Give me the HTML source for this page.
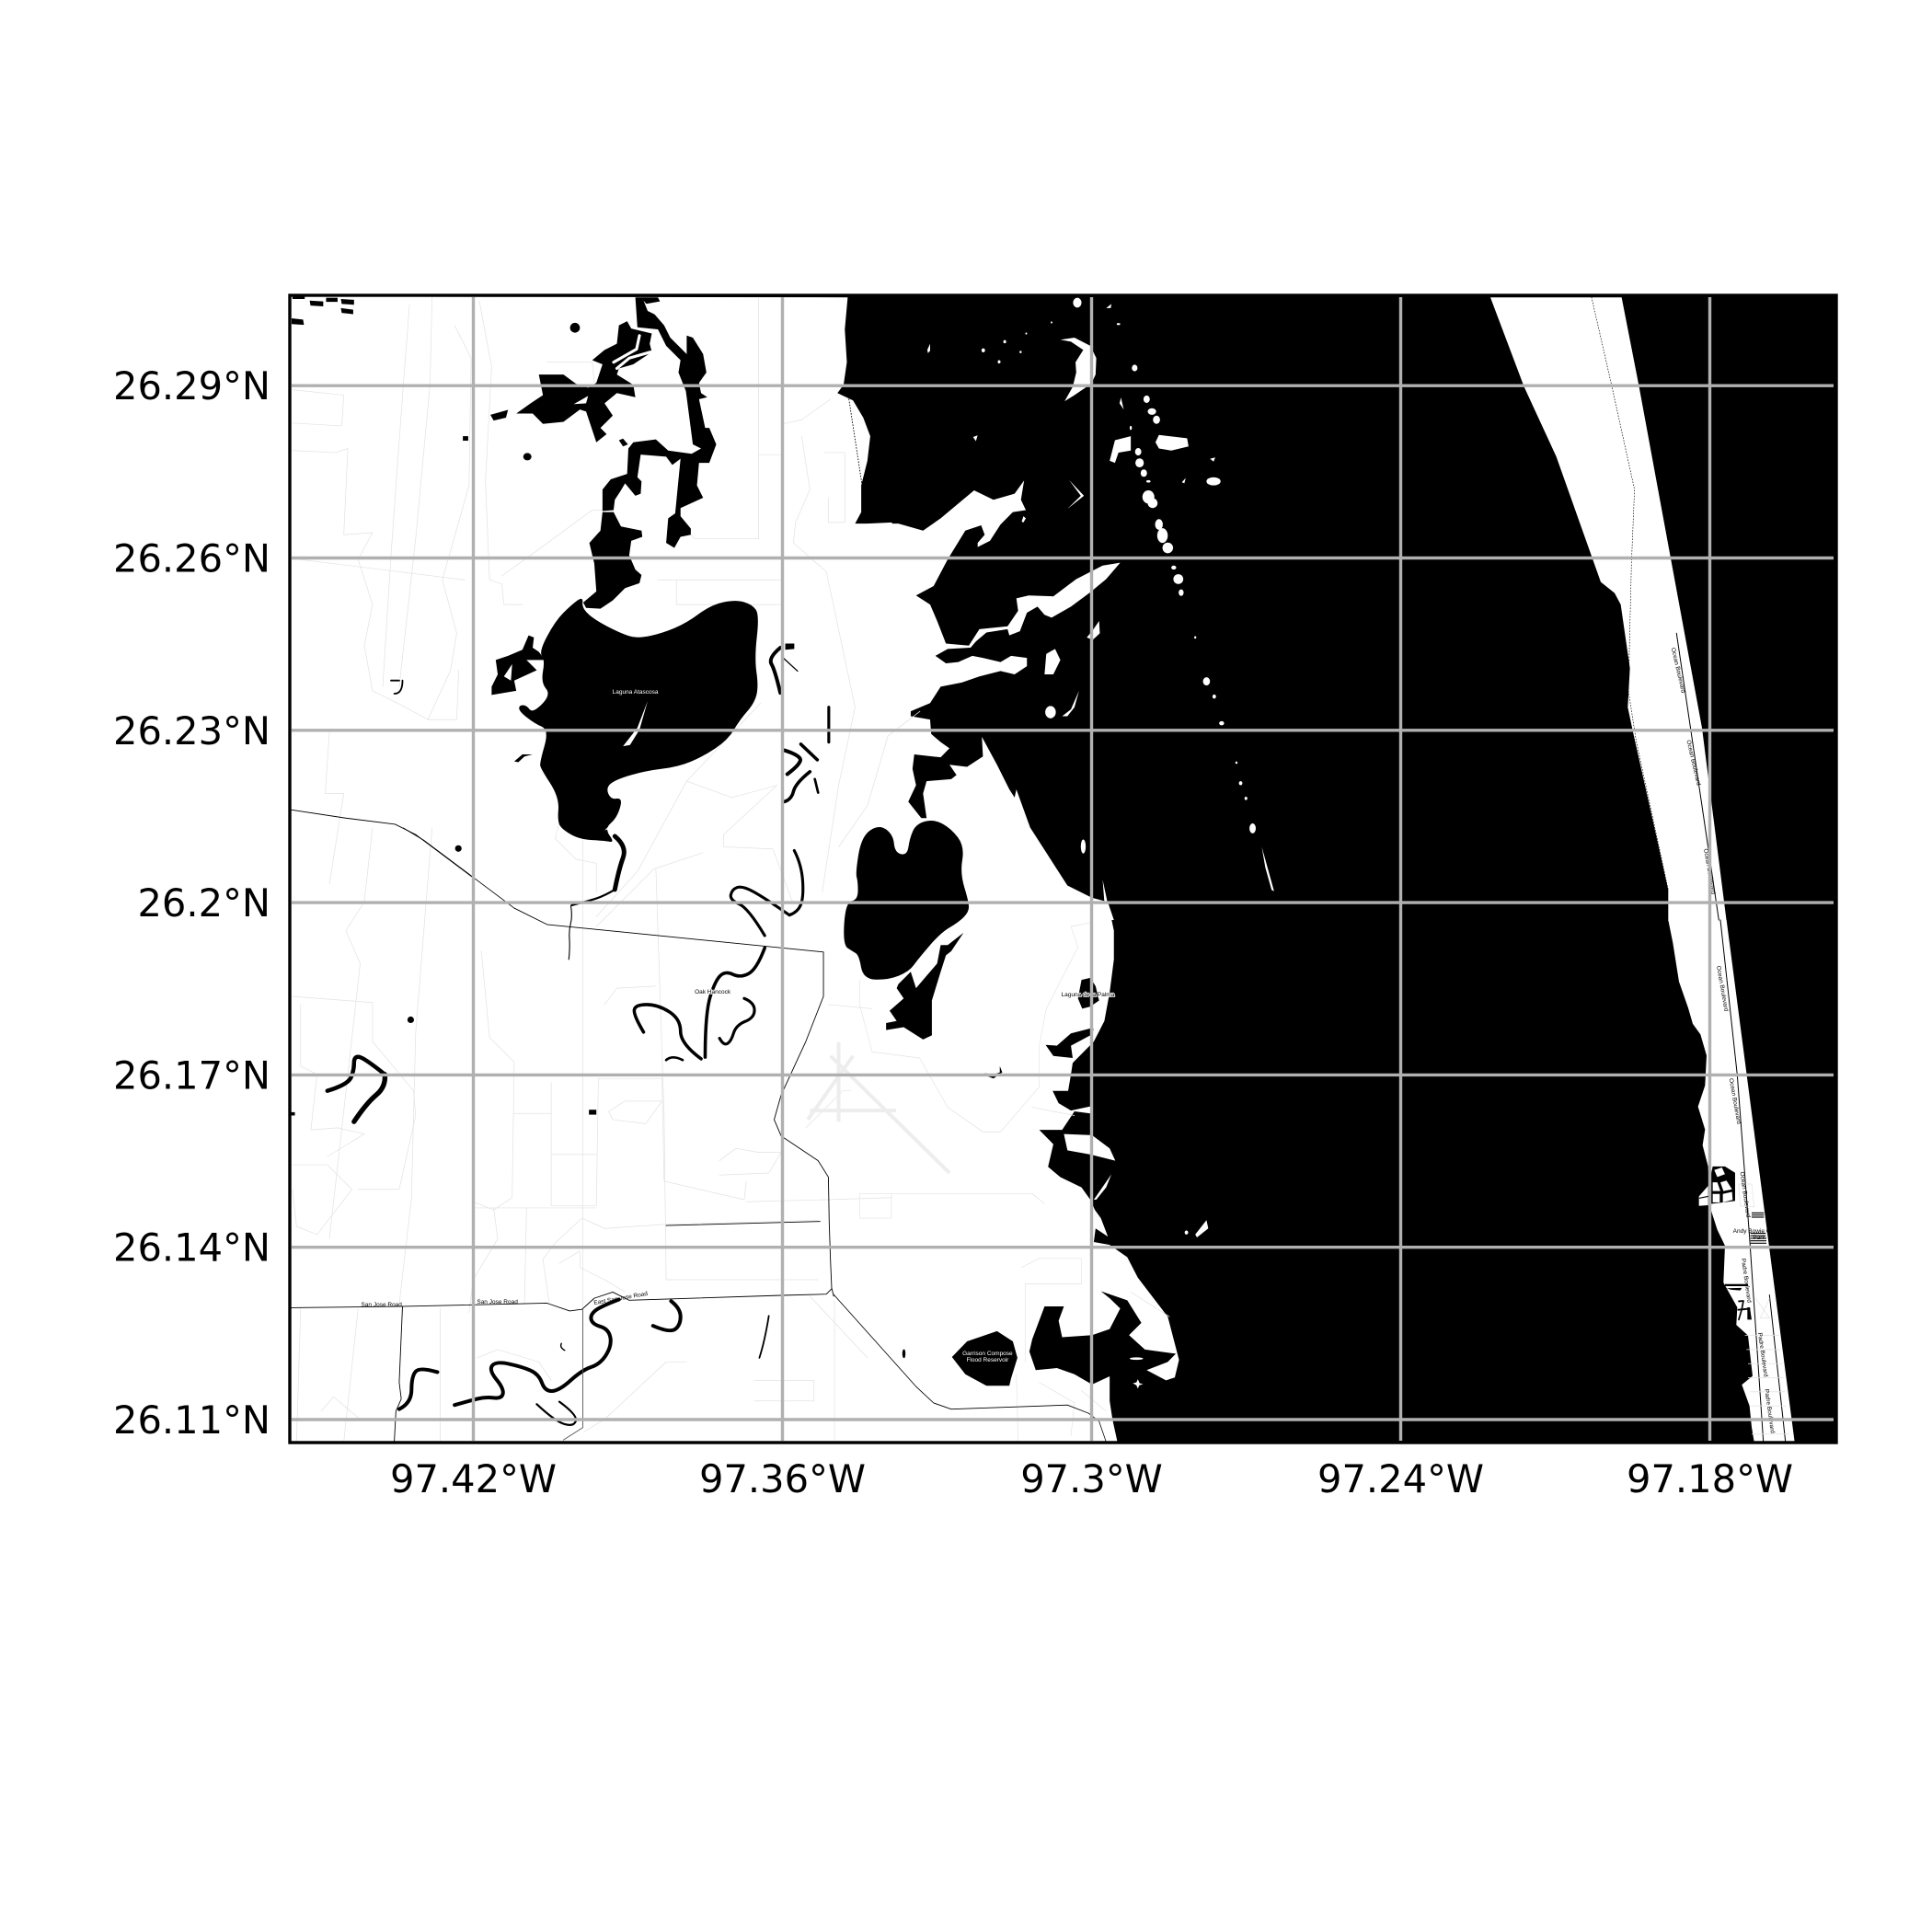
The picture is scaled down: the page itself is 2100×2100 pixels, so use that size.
<!DOCTYPE html>
<html>
<head>
<meta charset="utf-8">
<title>Map chart</title>
<style>
html,body{margin:0;padding:0;background:#fff;}
svg{display:block;}
.tick-label{font-family:"DejaVu Sans","Liberation Sans",sans-serif;font-size:41.6px;fill:#000;}
.tiny{font-family:"Liberation Sans",sans-serif;font-size:6.5px;}
polyline,path{stroke-linejoin:round;stroke-linecap:round;}
polyline{fill:none;}
.halo{stroke:#fff;stroke-width:1.6px;paint-order:stroke;}
</style>
</head>
<body>
<svg id="chart" xmlns="http://www.w3.org/2000/svg" width="2100" height="2100" viewBox="0 0 2100 2100">
<rect width="2100" height="2100" fill="#fff"/>
<rect x="315" y="321" width="1681" height="1247" fill="#000"/>

<!-- land -->
<g fill="#fff">
<g transform="translate(300,300) scale(0.4464)">
<polygon points="30,50 1392,52 1385,130 1390,210 1382,265 1367,285 1405,303 1430,345 1447,390 1440,450 1425,510 1425,575 1402,618 1425,640 1440,603 1500,600 1500,2840 30,2840"/>
</g>
<g transform="translate(900,300) scale(0.3827,0.4464)">
<polygon points="120,603 200,603 270,620 320,590 415,522 470,545 530,530 557,498 548,545 562,570 525,575 490,605 460,645 425,660 425,650 445,630 435,607 390,620 340,690 300,755 250,778 290,800 310,840 335,895 400,900 430,860 510,853 540,815 535,785 570,778 640,780 705,738 780,705 830,698 790,738 745,770 690,805 635,832 615,825 595,805 565,820 545,865 515,875 510,860 450,868 420,890 405,905 340,908 305,925 335,943 370,940 410,925 440,930 490,940 520,925 565,930 565,950 530,970 490,962 430,975 380,990 320,1000 290,1040 235,1060 235,1072 290,1080 293,1115 320,1135 345,1150 320,1172 245,1165 240,1200 250,1240 228,1280 265,1320 280,1320 270,1260 280,1230 350,1225 365,1215 345,1190 395,1195 440,1170 437,1122 480,1190 515,1250 530,1270 535,1250 575,1345 680,1495 748,1520 797,1530 812,1568 0,1568 0,603"/>
</g>
<g transform="translate(900,900) scale(0.3827,0.4464)">
<polygon points="575,0 680,140 750,170 795,180 812,250 812,320 800,400 785,470 755,520 695,572 690,600 682,640 638,640 655,670 690,688 745,678 745,695 700,690 665,735 600,735 640,770 625,825 660,850 720,875 745,905 758,930 775,950 795,995 760,975 755,1008 800,1015 850,1045 880,1095 965,1190 997,1295 985,1338 960,1345 905,1320 965,1300 988,1280 900,1270 855,1235 890,1205 850,1150 775,1128 800,1145 830,1170 800,1220 750,1235 665,1240 655,1200 670,1165 615,1165 580,1245 572,1275 590,1320 650,1315 700,1330 750,1355 800,1335 800,1395 808,1440 822,1495 0,1495 0,0"/>
<polygon points="670,745 750,748 800,780 816,810 745,795 680,785"/>
<polygon points="755,905 805,843 790,875 762,905"/>
</g>
<g transform="translate(1500,300) scale(0.3333,0.4464)">
<polygon points="360,52 470,270 575,440 720,745 765,772 785,800 815,955 808,1050 825,1110 885,1310 940,1495 940,1570 1130,1570 1050,1100 845,270 788,52"/>
</g>
<g transform="translate(1700,1000) scale(0.3333,0.3827)">
<polygon points="340,0 355,65 375,175 405,250 420,295 445,325 465,385 460,470 437,530 460,595 452,640 470,700 478,820 500,880 525,925 520,1030 565,1100 562,1150 600,1180 615,1295 580,1320 605,1380 612,1440 620,1482 752,1482 530,0"/>
</g>
</g>

<!-- faint roads -->
<g fill="none" stroke="#e2e2e2" stroke-width="1.6">
<g transform="translate(300,300) scale(0.4464)">
<polyline points="325,70 310,265 280,680 260,1000"/>
<polyline points="380,52 375,265 340,640 300,1000"/>
<polyline points="435,120 475,200 470,510 405,740 440,870 425,960 370,1080 440,1080 445,960"/>
<polyline points="495,60 525,220 510,500 520,740 550,750 555,800 600,800"/>
<polyline points="40,277 165,290 160,365 40,358"/>
<polyline points="40,425 145,430 175,420 165,630 235,625 200,690 235,800 215,900 235,1010 305,1045 370,1080"/>
<polyline points="40,688 460,740"/>
<polyline points="1175,52 1175,640 1020,640 1010,630"/>
<polyline points="1235,360 1280,350 1350,300"/>
<polyline points="1280,390 1300,520 1265,600 1260,650 1340,720 1410,1050 1370,1240 1330,1500"/>
<polyline points="1335,430 1385,430 1385,600 1345,600 1345,540"/>
<polyline points="1175,435 1230,435"/>
<polyline points="930,740 1230,740"/>
<polyline points="975,740 975,800 1230,800"/>
<polyline points="1490,1120 1440,1290 1370,1390"/>
<polyline points="1180,1040 1000,1230 880,1450 780,1560"/>
<polyline points="1000,1230 1110,1270 1220,1240 1090,1360 1090,1390 1210,1395 1260,1530"/>
<polyline points="550,730 620,680 770,570 820,570"/>
<polyline points="660,210 770,210 775,260"/>
<polyline points="130,1110 120,1260 165,1260 130,1480"/>
<polyline points="690,1330 680,1370 730,1420 780,1430 780,1500"/>
<polyline points="1490,1120 1568,1060"/>
</g>
<g transform="translate(300,900) scale(0.4464)">
<polyline points="235,0 215,180 170,250 205,330 175,600 130,1000"/>
<polyline points="380,0 340,500 330,900 300,1160"/>
<polyline points="40,410 235,425 235,520 335,640 340,700 300,880 200,880"/>
<polyline points="40,820 125,820 185,880 100,990 50,970 40,880"/>
<polyline points="60,430 60,580 100,600 85,735 150,730 215,745 125,800"/>
<polyline points="500,300 520,510 580,570 575,900 530,930 480,910"/>
<polyline points="670,620 670,920 780,920 785,610 940,610 945,860 1140,905 1145,860"/>
<polyline points="580,695 670,695"/>
<polyline points="670,795 780,795"/>
<polyline points="747,0 747,1172"/>
<polyline points="925,100 945,700 950,1100 1320,1100"/>
<polyline points="780,240 920,100 1040,60"/>
<polyline points="800,430 830,390 925,385"/>
<polyline points="810,690 850,665 940,665 900,720 820,710 810,690"/>
<polyline points="1080,810 1120,780 1175,790 1230,790 1200,840 1080,845"/>
<polyline points="1145,910 1340,905 1500,900"/>
<polyline points="480,925 780,925"/>
<polyline points="530,925 540,1000 480,1100 470,1180"/>
<polyline points="610,925 605,1160"/>
<polyline points="650,1050 680,1010 745,950 800,975 950,965 1320,955"/>
<polyline points="650,1050 665,1155"/>
<polyline points="690,1060 740,1030 740,1070 800,1100 850,1130"/>
<polyline points="1000,1300 950,1300 800,1440 750,1470"/>
<polyline points="490,1290 540,1270 640,1300 670,1345"/>
<polyline points="1165,1345 1310,1345 1310,1395 1165,1395"/>
<polyline points="1360,1150 1360,1490"/>
<polyline points="1300,1140 1440,1290"/>
<polyline points="60,1170 50,1495"/>
<polyline points="200,1170 165,1495"/>
<polyline points="400,1170 400,1495"/>
<polyline points="110,1420 140,1385 205,1440 240,1440"/>
<polyline points="1290,730 1380,640 1400,640"/>
</g>
<g transform="translate(900,900) scale(0.3827,0.4464)">
<polyline points="90,370 90,430 125,545 260,560 340,680 440,740 490,740 600,630 600,530 620,440 710,290 690,240 750,230"/>
<polyline points="0,430 125,440"/>
<polyline points="90,890 580,890 615,915"/>
<polyline points="550,1070 600,1048 720,1048 720,1110 560,1110 560,1300"/>
<polyline points="535,1330 540,1495"/>
<polyline points="580,680 700,700"/>
<polyline points="860,1130 970,1190"/>
<polyline points="600,1350 700,1400 690,1480"/>
<polyline points="720,1370 790,1420"/>
<polyline points="180,890 180,950"/>
<polyline points="90,890 90,950 180,950"/>
</g>
</g>
<!-- airport -->
<g transform="translate(300,900) scale(0.4464)" fill="none" stroke="#ededed" stroke-width="9">
<line x1="1370" y1="522" x2="1370" y2="715"/>
<line x1="1295" y1="710" x2="1405" y2="555"/>
<line x1="1300" y1="688" x2="1510" y2="688"/>
<line x1="1350" y1="555" x2="1640" y2="840"/>
</g>

<!-- water bodies -->
<g fill="#000">
<g transform="translate(300,300) scale(0.4464)">
<rect x="40" y="48" width="30" height="8"/><polygon points="82,60 115,62 115,74 84,72"/><rect x="122" y="53" width="28" height="10"/><polygon points="158,56 190,58 190,70 160,68"/><polygon points="158,78 188,82 188,93 160,90"/><polygon points="38,103 66,106 68,119 38,117"/>
<polygon points="875,52 930,52 935,62 900,68 945,120 960,150 1000,190 1000,145 1015,150 1040,190 1048,235 1030,260 1035,285 1050,295 1030,300 1045,370 1055,370 1072,410 1055,455 1030,455 1025,510 1040,540 985,565 985,585 1010,615 1010,630 985,635 970,662 950,650 955,590 972,578 985,445 965,460 950,440 888,435 880,490 890,500 888,530 875,535 850,505 838,525 825,545 822,570 795,572 795,520 815,495 855,482 858,420 870,405 925,398 955,425 1012,433 1035,420 1015,410 998,280 980,235 985,205 950,170 930,130 880,125"/>
<polygon points="795,575 822,575 840,610 890,620 892,635 865,645 860,680 875,715 890,728 885,748 850,760 820,790 790,810 755,808 748,795 780,768 775,700 763,650 790,620"/>
<polygon class="smooth" points="748,780 745,810 780,840 850,875 885,882 940,870 1000,845 1060,800 1120,788 1160,800 1177,825 1165,930 1175,1000 1165,1040 1130,1080 1100,1130 1040,1170 980,1195 900,1205 830,1225 803,1245 815,1275 845,1270 830,1320 800,1345 825,1380 800,1375 740,1372 700,1350 685,1330 690,1270 645,1200 642,1185 665,1105 630,1090 592,1060 592,1045 610,1045 625,1065 670,1020 645,990 655,935 640,915 680,840 720,800"/>
<polygon points="615,875 628,880 625,905 640,915 655,935 610,935 635,960 580,985 585,1010 525,1020 525,1000 540,970 535,935 565,925 600,910"/>
<polygon points="640,240 700,240 730,262 760,272 780,260 795,215 770,205 800,180 830,165 835,120 855,110 865,128 915,140 910,165 915,185 870,215 835,225 830,240 870,265 875,295 830,285 800,310 820,340 790,370 805,385 780,405 755,330 740,325 700,355 650,360 625,335 585,335 620,310 650,290"/>
<polygon points="522,338 565,326 560,345 530,352"/>
<ellipse cx="728" cy="126" rx="12" ry="12"/>
<ellipse cx="612" cy="440" rx="10" ry="9"/>
<rect x="455" y="390" width="13" height="11"/>
<polygon points="835,400 845,396 857,410 845,415"/>
<polygon points="580,1182 600,1165 625,1165 605,1170 590,1184"/>
<polygon points="1240,895 1262,895 1262,908 1240,910"/>
<circle cx="444" cy="1394" r="8"/>
<g fill="#fff"><polyline stroke="#fff" stroke-width="7" points="885,145 878,178 822,210"/><polyline stroke="#fff" stroke-width="7" points="912,185 860,200 830,225"/><polygon points="725,312 760,292 755,310"/><polygon points="555,975 575,945 572,985"/><polygon points="905,1035 880,1100 845,1145 862,1142 885,1105"/><polygon points="800,1350 830,1320 815,1345"/><polygon points="895,60 925,95 905,85"/></g>
</g>
<g transform="translate(900,900) scale(0.3827,0.4464)">
<polygon class="smooth" points="78,110 95,20 145,-9 185,16 190,60 225,67 232,25 250,-10 300,-22 350,1 388,45 375,110 400,180 400,205 370,230 320,255 255,320 230,350 170,370 100,368 88,310 70,300 42,285 50,180 85,175 85,130"/>
<polygon points="200,380 235,350 250,390 275,365 310,330 320,285 340,285 385,255 350,300 335,310 320,350 295,420 295,505 270,515 215,485 165,492 165,475 195,470 175,445 215,415 195,390"/>
<polygon points="720,370 745,365 760,385 770,420 745,435 722,440 710,415"/>
<polygon points="618,528 650,530 690,500 745,488 755,490 745,505 690,530 695,560 640,555"/>
<polygon points="352,1288 395,1250 480,1225 525,1250 538,1290 520,1340 515,1358 450,1358 390,1330"/>
<ellipse cx="216" cy="1280" rx="4" ry="11"/>
<polygon points="445,597 470,600 488,595 488,580 495,595 470,610 455,605"/>
</g>
<g class="rivers" transform="translate(300,900) scale(0.4464)" fill="none" stroke="#000">
<polyline stroke-width="11" points="825,20 855,45 835,100 825,150"/>
<polyline stroke-width="5" points="825,150 800,165 760,178 720,188"/>
<polyline stroke-width="2.5" points="718,190 722,215 713,250 716,290 713,320"/>
<polyline stroke-width="7" points="1262,55 1280,90 1285,170 1270,205 1250,212"/>
<polyline stroke-width="7" points="1250,212 1190,170 1135,140 1110,150 1105,175 1150,195 1190,262"/>
<polyline stroke-width="8" points="1190,292 1170,345 1130,365 1095,348 1070,370 1045,450 1045,558"/>
<polyline stroke-width="8" points="895,497 870,455 875,430 930,430 985,465 985,525 1035,562"/>
<polyline stroke-width="6" points="950,565 965,552 990,565"/>
<polyline stroke-width="7" points="1140,415 1165,425 1165,462 1120,480 1108,520 1090,530 1080,512"/>
<polyline stroke-width="10" points="125,640 175,625 190,590 190,555 215,560 265,600"/>
<polyline stroke-width="12" points="265,600 268,630 220,670 190,715"/>
<polyline stroke-width="9" points="962,1152 985,1170 985,1210 960,1230 918,1212"/>
<polyline stroke-width="4" points="1200,1188 1190,1250 1177,1290"/>
<polyline stroke-width="9" points="835,1148 790,1165 765,1185 770,1208 810,1220 818,1260 790,1305 745,1320 690,1370 655,1372 640,1330 600,1312 535,1298 518,1320 555,1365 550,1390 510,1385 470,1395 435,1405"/>
<polyline stroke-width="9" points="393,1325 350,1312 330,1335 330,1400 300,1415"/>
<polyline stroke-width="5" points="635,1403 680,1445 725,1458 735,1430 690,1397"/>
<polyline stroke-width="3" points="695,1255 690,1265 703,1272"/>
<g fill="#000" stroke="none"><circle cx="328" cy="467" r="8"/><rect x="762" y="686" width="18" height="12"/><ellipse cx="1528" cy="1280" rx="3" ry="10"/><rect x="32" y="692" width="14" height="8"/></g>
</g>
<g class="rivers" transform="translate(300,300) scale(0.4464)" fill="none" stroke="#000">
<polyline stroke-width="4" points="280,985 300,985"/>
<polyline stroke-width="4" points="308,985 308,1017 288,1017"/>
<polyline stroke-width="9" points="1228,905 1198,930 1215,960 1228,1015"/>
<polyline stroke-width="3" points="1235,930 1270,962"/>
<polyline stroke-width="7" points="1346,1050 1346,1135"/>
<polyline stroke-width="9" points="1238,1155 1270,1165 1282,1185 1245,1213"/>
<polyline stroke-width="8" points="1278,1140 1318,1178"/>
<polyline stroke-width="8" points="1300,1207 1265,1235 1255,1275 1238,1280"/>
<polyline stroke-width="6" points="1312,1225 1320,1258"/>
</g>
</g>

<!-- major roads -->
<g fill="none" stroke="#000" stroke-width="2">
<g transform="translate(300,900) scale(0.4464)">
<polyline points="310,0 360,30 480,120 580,195 660,235 1333,302 1333,410 1290,520 1230,650 1213,710 1230,750 1320,810 1345,850 1347,960 1350,1050 1353,1120 1358,1140"/>
<polyline points="38,1168 300,1165 660,1157 715,1176 745,1172 775,1145 820,1130 860,1150 1230,1138 1340,1135 1353,1122"/>
<polyline points="308,1165 300,1350 305,1390 292,1420 288,1495"/>
<polyline stroke="#555" points="747,1172 747,1460 700,1490"/>
<polyline points="950,968 1325,958"/>
</g>
<g transform="translate(300,300) scale(0.4464)">
<polyline points="38,1300 170,1320 290,1335 340,1360 480,1465"/>
</g>
<g transform="translate(900,900) scale(0.3827,0.4464)">
<polyline points="16,1136 250,1360 300,1400 350,1415 680,1405 740,1425 770,1445 790,1495"/>
</g>
</g>

<!-- islands -->
<g transform="translate(900,300) scale(0.3827,0.4464)" fill="#fff">
<polygon points="660,155 700,150 745,170 762,200 760,240 748,262 700,290 672,305 695,270 705,235 703,210 725,180 690,160"/>
<polygon points="930,405 940,387 1020,395 1024,415 975,425 940,420"/>
<polygon points="800,450 815,400 860,390 860,425 825,430 815,455"/>
<polygon points="685,497 727,535 680,567 718,535"/>
<polygon points="620,920 645,908 660,935 640,970 615,970"/>
<polygon points="665,1072 690,1055 713,1010 700,1050 680,1072"/>
<polygon points="770,840 772,870 752,886 735,880 750,865"/>
<polygon points="780,1470 795,1530 785,1525"/>
<polygon points="1232,1390 1245,1430 1267,1498 1260,1495 1242,1440"/>
<polygon points="832,296 840,325 828,310"/>
<polygon points="282,180 290,165 290,182 284,188"/>
<polygon points="555,585 562,590 555,600 550,598"/>
<polygon points="412,392 425,388 420,402"/>
<polygon points="790,78 805,68 803,78"/>
<polygon points="1005,502 1016,492 1012,505"/>
<polygon points="1085,445 1100,442 1095,452"/>
<circle cx="708" cy="65" r="12"/><circle cx="441" cy="181" r="5"/><circle cx="486" cy="209" r="4"/><circle cx="502" cy="160" r="4"/><circle cx="547" cy="185" r="3"/><circle cx="635" cy="113" r="2.5"/><circle cx="563" cy="140" r="2.5"/><ellipse cx="825" cy="117" rx="5" ry="2.5"/>
<circle cx="871" cy="224" r="8"/><circle cx="905" cy="300" r="9"/><ellipse cx="920" cy="330" rx="12" ry="8"/><circle cx="933" cy="350" r="10"/><circle cx="881" cy="428" r="9"/><ellipse cx="885" cy="455" rx="12" ry="11"/><circle cx="897" cy="480" r="9"/><ellipse cx="910" cy="500" rx="6" ry="3"/>
<ellipse cx="910" cy="538" rx="17" ry="16"/><ellipse cx="922" cy="553" rx="14" ry="12"/>
<ellipse cx="940" cy="605" rx="11" ry="13"/><ellipse cx="950" cy="632" rx="15" ry="18"/><ellipse cx="965" cy="662" rx="15" ry="13"/><ellipse cx="982" cy="710" rx="7" ry="5"/><ellipse cx="995" cy="738" rx="14" ry="12"/><ellipse cx="1003" cy="771" rx="7" ry="8"/>
<ellipse cx="1095" cy="500" rx="20" ry="10"/><circle cx="1075" cy="987" r="10"/><ellipse cx="1118" cy="1089" rx="7" ry="5"/><circle cx="1097" cy="1024" r="5"/><circle cx="1172" cy="1235" r="5"/><circle cx="1187" cy="1272" r="4"/><circle cx="1160" cy="1185" r="3"/><circle cx="1043" cy="880" r="3"/><ellipse cx="1206" cy="1345" rx="9" ry="12"/><circle cx="632" cy="1062" r="15"/>
<ellipse cx="860" cy="370" rx="3" ry="5"/>
</g>
<g transform="translate(900,900) scale(0.3827,0.4464)" fill="#fff">
<polygon points="1043,990 1075,955 1080,975 1048,997"/><circle cx="1018" cy="985" r="5"/>
<ellipse cx="876" cy="1292" rx="19" ry="3"/>
<polygon points="880,1342 885,1352 895,1354 884,1357 880,1365 876,1357 866,1352 876,1350"/>
<ellipse cx="725" cy="45" rx="7" ry="17"/>
</g>

<!-- barrier island details -->
<g transform="translate(1500,300) scale(0.3333,0.4464)" fill="none" stroke="#000">
<polyline stroke-width="2" stroke-dasharray="2 5" points="690,52 755,265 830,520 820,700 810,1010 835,1130 940,1495"/>
<polyline stroke-width="3" points="967,870 1105,1568"/>
</g>
<g transform="translate(300,300) scale(0.4464)" fill="none" stroke="#000">
<polyline stroke-width="2" stroke-dasharray="2 5" points="1395,300 1428,515"/>
</g>
<g transform="translate(1700,1000) scale(0.3333,0.3827)">
<polygon fill="#000" points="485,700 525,700 558,718 558,798 480,806 470,760"/>
<g fill="#fff">
<polygon points="490,710 515,703 525,722 500,730"/>
<polygon points="485,745 500,745 510,770 485,770"/>
<polygon points="510,745 530,740 548,765 520,770"/>
<polygon points="485,778 508,778 508,802 485,802"/>
<polygon points="518,778 548,772 550,795 518,802"/>
<polygon points="440,785 470,755 470,810 440,812"/>
</g>
<polyline fill="none" stroke="#000" stroke-width="3" points="442,790 470,785"/>
<rect x="525" y="1034" width="75" height="6" fill="#000"/>
<polygon fill="#000" points="530,1046 580,1045 575,1052 545,1050"/>
<polygon fill="#000" points="598,1100 606,1100 612,1135 598,1135"/>
<g fill="none" stroke="#000" stroke-width="5">
<polyline points="570,1083 585,1082 580,1105 570,1135"/>
<polyline points="568,1107 605,1104"/>
</g>
<g fill="none" stroke="#000" stroke-width="3">
<polyline points="510,0 565,440 605,900 650,1480"/>
<polyline points="670,1065 722,1480"/>
<line x1="612" y1="832" x2="652" y2="832"/><line x1="612" y1="838" x2="652" y2="838"/><line x1="612" y1="844" x2="652" y2="844"/>
<line x1="608" y1="890" x2="658" y2="890"/><line x1="608" y1="897" x2="658" y2="897"/><line x1="608" y1="904" x2="660" y2="904"/><line x1="608" y1="911" x2="660" y2="911"/><line x1="608" y1="918" x2="660" y2="918"/>
</g>
<g fill="none" stroke="#e2e2e2" stroke-width="2">
<line x1="590" y1="1180" x2="700" y2="1180"/><line x1="595" y1="1220" x2="705" y2="1220"/><line x1="600" y1="1260" x2="712" y2="1260"/><line x1="600" y1="1300" x2="716" y2="1300"/><line x1="606" y1="1340" x2="720" y2="1340"/><line x1="610" y1="1380" x2="725" y2="1380"/><line x1="612" y1="1420" x2="730" y2="1420"/><line x1="612" y1="1460" x2="735" y2="1460"/>
<polyline points="625,1075 670,1130 640,1130 670,1075"/>
<polyline points="570,750 612,750 620,815 575,812 570,750"/>
</g>
</g>

<!-- map labels -->
<g>
<text class="tiny" x="690.6" y="754" fill="#fff" text-anchor="middle">Laguna Atascosa</text>
<text class="tiny" x="414.7" y="1420" fill="#000" text-anchor="middle">San Jose Road</text>
<text class="tiny" x="540.6" y="1417" fill="#000" text-anchor="middle">San Jose Road</text>
<text class="tiny" x="675" y="1413" fill="#000" text-anchor="middle" transform="rotate(-10 675 1413)">East San Jose Road</text>
<text class="tiny halo" x="774.6" y="1080" fill="#000" text-anchor="middle">Oak Hancock</text>
<text class="tiny halo" x="1182.4" y="1083" fill="#000" text-anchor="middle">Laguna de la Palma</text>
<text class="tiny" x="1073.4" y="1473" fill="#fff" text-anchor="middle">Garrison Compose</text>
<text class="tiny" x="1073.4" y="1480" fill="#fff" text-anchor="middle">Flood Reservoir</text>
<text class="tiny" x="1824" y="728.6" text-anchor="middle" dominant-baseline="middle" transform="rotate(77 1824 728.6)">Ocean Boulevard</text>
<text class="tiny" x="1840.7" y="829" text-anchor="middle" dominant-baseline="middle" transform="rotate(77 1840.7 829)">Ocean Boulevard</text>
<text class="tiny" x="1858" y="947.3" text-anchor="middle" dominant-baseline="middle" transform="rotate(80 1858 947.3)">Ocean Boulevard</text>
<text class="tiny" x="1872" y="1074.6" text-anchor="middle" dominant-baseline="middle" transform="rotate(80 1872 1074.6)">Ocean Boulevard</text>
<text class="tiny" x="1885.7" y="1197" text-anchor="middle" dominant-baseline="middle" transform="rotate(80 1885.7 1197)">Ocean Boulevard</text>
<text class="tiny" x="1896.7" y="1298.5" text-anchor="middle" dominant-baseline="middle" transform="rotate(82 1896.7 1298.5)">Ocean Boulevard</text>
<text class="tiny" x="1898" y="1392" text-anchor="middle" dominant-baseline="middle" transform="rotate(82 1898 1392)">Padre Boulevard</text>
<text class="tiny" x="1916" y="1472.6" text-anchor="middle" dominant-baseline="middle" transform="rotate(82 1916 1472.6)">Padre Boulevard</text>
<text class="tiny" x="1923.3" y="1533.9" text-anchor="middle" dominant-baseline="middle" transform="rotate(82 1923.3 1533.9)">Padre Boulevard</text>
<text class="tiny" x="1912" y="1340" text-anchor="middle">Andy Bowie County</text>
<text class="tiny" x="1912" y="1347" text-anchor="middle">Park</text>
</g>

<g id="grid"></g>
<rect x="315" y="321" width="1681" height="1247" fill="none" stroke="#000" stroke-width="3.4"/>
<g id="labels"></g>
</svg>
<script>
var lonTicks = [-97.42, -97.36, -97.30, -97.24, -97.18];
var latTicks = [26.29, 26.26, 26.23, 26.20, 26.17, 26.14, 26.11];
var lonLabels = ['97.42°W', '97.36°W', '97.3°W', '97.24°W', '97.18°W'];
var latLabels = ['26.29°N', '26.26°N', '26.23°N', '26.2°N', '26.17°N', '26.14°N', '26.11°N'];

function xOf(lon) { return 514.5 + (lon + 97.42) / 0.06 * 336; }
function yOf(lat) { return 1543 - (lat - 26.11) / 0.03 * 187.3; }

var SVGNS = 'http://www.w3.org/2000/svg';
var grid = document.getElementById('grid');
var labels = document.getElementById('labels');

lonTicks.forEach(function (lon, i) {
  var x = xOf(lon);
  var line = document.createElementNS(SVGNS, 'line');
  line.setAttribute('x1', x);
  line.setAttribute('x2', x);
  line.setAttribute('y1', 323);
  line.setAttribute('y2', 1566);
  line.setAttribute('stroke', '#b0b0b0');
  line.setAttribute('stroke-width', 3.4);
  
  
  grid.appendChild(line);
  var t = document.createElementNS(SVGNS, 'text');
  t.setAttribute('x', x);
  t.setAttribute('y', 1622);
  t.setAttribute('text-anchor', 'middle');
  t.setAttribute('class', 'tick-label');
  
  
  t.textContent = lonLabels[i];
  labels.appendChild(t);
});

latTicks.forEach(function (lat, i) {
  var y = yOf(lat);
  var line = document.createElementNS(SVGNS, 'line');
  line.setAttribute('x1', 317);
  line.setAttribute('x2', 1993);
  line.setAttribute('y1', y);
  line.setAttribute('y2', y);
  line.setAttribute('stroke', '#b0b0b0');
  line.setAttribute('stroke-width', 3.4);
  
  
  grid.appendChild(line);
  var t = document.createElementNS(SVGNS, 'text');
  t.setAttribute('x', 294);
  t.setAttribute('y', y + 15);
  t.setAttribute('text-anchor', 'end');
  t.setAttribute('class', 'tick-label');
  
  
  t.textContent = latLabels[i];
  labels.appendChild(t);
});

/* Round the hand-traced river and lagoon outlines with quadratic curves. */
function parsePoints(el) {
  return el.getAttribute('points').trim().split(/\s+/).map(function (p) {
    return p.split(',').map(Number);
  });
}
function midpoint(a, b) {
  return ((a[0] + b[0]) / 2) + ' ' + ((a[1] + b[1]) / 2);
}
function smoothOpen(pts) {
  var d = 'M' + pts[0].join(' ');
  for (var i = 1; i < pts.length - 1; i++) {
    var end = i === pts.length - 2 ? pts[i + 1].join(' ') : midpoint(pts[i], pts[i + 1]);
    d += ' Q' + pts[i].join(' ') + ' ' + end;
  }
  if (pts.length === 2) { d += ' L' + pts[1].join(' '); }
  return d;
}
function smoothClosed(pts) {
  var n = pts.length;
  var d = 'M' + midpoint(pts[n - 1], pts[0]);
  for (var i = 0; i < n; i++) {
    d += ' Q' + pts[i].join(' ') + ' ' + midpoint(pts[i], pts[(i + 1) % n]);
  }
  return d + ' Z';
}
document.querySelectorAll('.rivers polyline').forEach(function (el) {
  var path = document.createElementNS(SVGNS, 'path');
  path.setAttribute('d', smoothOpen(parsePoints(el)));
  path.setAttribute('stroke-width', el.getAttribute('stroke-width'));
  
  
  el.parentNode.replaceChild(path, el);
});
document.querySelectorAll('polygon.smooth').forEach(function (el) {
  var path = document.createElementNS(SVGNS, 'path');
  path.setAttribute('d', smoothClosed(parsePoints(el)));
  
  
  el.parentNode.replaceChild(path, el);
});
</script>
</body>
</html>
